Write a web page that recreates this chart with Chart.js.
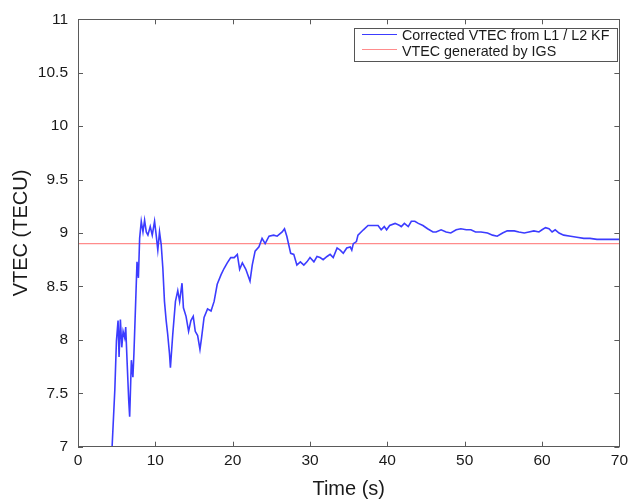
<!DOCTYPE html>
<html>
<head>
<meta charset="utf-8">
<script src="https://cdn.jsdelivr.net/npm/chart.js@4.4.1/dist/chart.umd.min.js"></script>
<style>
html,body{margin:0;padding:0;background:#fff;}
#wrap{width:633px;height:502px;position:relative;}
</style>
</head>
<body>
<div id="wrap"><canvas id="c"></canvas></div>
<script>
// ---- data ----
const seriesLabels = ["Corrected VTEC from L1 / L2 KF", "VTEC generated by IGS"];
const kfTime = [4.41,4.76,4.97,5.18,5.31,5.48,5.66,5.83,6.04,6.17,6.34,6.56,6.68,6.9,7.1,7.23,7.46,7.63,7.81,7.97,
  8.18,8.4,8.61,8.83,9.04,9.34,9.6,9.9,10.11,10.32,10.54,10.76,10.97,11.18,11.4,11.6,11.83,11.95,12.25,12.6,
  12.9,13.14,13.45,13.63,13.97,14.3,14.6,14.9,15.16,15.47,15.77,15.98,16.3,16.75,17.2,17.6,18.0,18.5,18.9,19.3,
  19.75,20.2,20.6,20.9,21.25,21.7,22.24,22.53,22.9,23.4,23.8,24.2,24.7,25.3,25.75,26.4,26.7,27.0,27.5,27.9,
  28.3,28.75,29.2,29.6,30.0,30.5,30.9,31.3,31.7,32.2,32.6,33.0,33.5,33.9,34.3,34.75,35.2,35.4,35.6,36.0,
  36.2,36.9,37.5,38.2,38.8,39.2,39.6,39.9,40.3,41.0,41.6,41.8,42.2,42.7,43.1,43.55,44.0,44.6,45.2,45.9,
  46.3,46.95,47.6,48.2,48.9,49.5,50.2,50.8,51.4,52.1,52.95,53.6,54.2,54.9,55.5,56.4,57.0,57.7,58.3,58.95,
  59.6,60.0,60.45,60.9,61.3,61.7,62.2,62.8,63.7,64.5,65.4,66.2,67.1,67.96,68.8,69.7,70.0];
const kfVtec = [7.0,7.53,7.99,8.18,7.84,8.19,7.93,8.08,8.02,8.12,7.81,7.43,7.28,7.81,7.65,7.87,8.36,8.73,8.58,8.95,
  9.11,9.01,9.12,9.01,8.98,9.06,8.98,9.11,8.98,8.84,9.01,8.89,8.67,8.36,8.18,8.05,7.87,7.74,8.05,8.36,
  8.46,8.36,8.53,8.3,8.22,8.08,8.18,8.22,8.08,8.04,7.91,8.02,8.21,8.29,8.27,8.36,8.52,8.61,8.67,8.72,
  8.77,8.77,8.8,8.66,8.72,8.66,8.55,8.7,8.83,8.87,8.95,8.9,8.97,8.98,8.97,9.01,9.04,8.97,8.81,8.8,
  8.7,8.73,8.7,8.73,8.77,8.73,8.78,8.77,8.75,8.78,8.8,8.77,8.86,8.84,8.81,8.86,8.87,8.84,8.9,8.92,
  8.98,9.03,9.07,9.07,9.07,9.03,9.06,9.03,9.07,9.09,9.07,9.06,9.09,9.06,9.11,9.11,9.09,9.07,9.04,9.01,
  9.01,9.03,9.01,9.0,9.03,9.04,9.03,9.03,9.01,9.01,9.0,8.98,8.97,9.0,9.02,9.02,9.01,9.0,9.01,9.02,
  9.01,9.03,9.05,9.04,9.01,9.03,9.0,8.98,8.97,8.96,8.95,8.95,8.94,8.94,8.94,8.94,8.94];
const igsTime = [0, 70];
const igsVtec = [8.9, 8.9];
const xTicks = [0,10,20,30,40,50,60,70];
const yTicks = [7,7.5,8,8.5,9,9.5,10,10.5,11];
const xTitle = "Time (s)";
const yTitle = "VTEC (TECU)";

const FONT = "'Liberation Sans', Arial, Helvetica, sans-serif";

const framePlugin = {
  id: 'frame',
  afterDraw(chart) {
    const ctx = chart.ctx, a = chart.chartArea;
    const xs = chart.scales.x, ys = chart.scales.y;
    ctx.save();
    ctx.strokeStyle = '#5a5a5a';
    ctx.lineWidth = 1;
    ctx.strokeRect(Math.round(a.left)+0.5, Math.round(a.top)+0.5, Math.round(a.right-a.left), Math.round(a.bottom-a.top));
    const L = 5;
    ctx.beginPath();
    xTicks.forEach(v => {
      const px = Math.round(xs.getPixelForValue(v)) + 0.5;
      ctx.moveTo(px, a.bottom); ctx.lineTo(px, a.bottom - L);
      ctx.moveTo(px, a.top); ctx.lineTo(px, a.top + L);
    });
    yTicks.forEach(v => {
      const py = Math.round(ys.getPixelForValue(v)) + 0.5;
      ctx.moveTo(a.left, py); ctx.lineTo(a.left + L, py);
      ctx.moveTo(a.right, py); ctx.lineTo(a.right - L, py);
    });
    ctx.stroke();

    // legend box
    const bx = 354.5, by = 28.5, bw = 263, bh = 33;
    ctx.fillStyle = '#fff';
    ctx.fillRect(bx, by, bw, bh);
    ctx.strokeStyle = '#555';
    ctx.strokeRect(bx, by, bw, bh);
    ctx.font = '14.3px ' + FONT;
    ctx.textBaseline = 'middle';
    ctx.textAlign = 'left';
    const rows = [36.5, 52];
    chart.data.datasets.forEach((ds, i) => {
      ctx.strokeStyle = ds.borderColor;
      ctx.lineWidth = 1;
      ctx.beginPath();
      ctx.moveTo(362, Math.round(rows[i]) - 2.5);
      ctx.lineTo(397, Math.round(rows[i]) - 2.5);
      ctx.stroke();
      ctx.fillStyle = '#1a1a1a';
      ctx.fillText(ds.label, 402, rows[i]);
    });
    ctx.restore();
  }
};

const kfData = kfTime.map((t, i) => ({x: t, y: kfVtec[i]}));
const igsData = igsTime.map((t, i) => ({x: t, y: igsVtec[i]}));

new Chart(document.getElementById('c'), {
  type: 'line',
  data: {
    datasets: [
      {label: seriesLabels[0], data: kfData, borderColor: '#3c3cff', borderWidth: 1.6, pointRadius: 0, tension: 0, fill: false},
      {label: seriesLabels[1], data: igsData, borderColor: '#ff8c8c', borderWidth: 1.3, pointRadius: 0, tension: 0, fill: false}
    ]
  },
  options: {
    responsive: true,
    maintainAspectRatio: false,
    animation: false,
    layout: {padding: {left: 0, right: 10, top: 16, bottom: 0}},
    plugins: {legend: {display: false}, tooltip: {enabled: false}},
    scales: {
      x: {
        type: 'linear', min: 0, max: 70,
        afterFit(s) { s.height = 55.3; },
        afterBuildTicks(s) { s.ticks = xTicks.map(v => ({value: v})); },
        grid: {display: false, drawTicks: false},
        border: {display: false},
        ticks: {padding: 5, color: '#1a1a1a', font: {family: FONT, size: 15.5}, maxRotation: 0, autoSkip: false},
        title: {display: true, text: xTitle, color: '#1a1a1a', font: {family: FONT, size: 20, lineHeight: 1.2}, padding: {top: 0, bottom: 1}}
      },
      y: {
        type: 'linear', min: 7, max: 11,
        afterFit(s) { s.width = 78; },
        afterBuildTicks(s) { s.ticks = yTicks.map(v => ({value: v})); },
        grid: {display: false, drawTicks: false},
        border: {display: false},
        ticks: {padding: 10, color: '#1a1a1a', font: {family: FONT, size: 15.5}, autoSkip: false,
          callback: v => String(v)},
        title: {display: true, text: yTitle, color: '#1a1a1a', font: {family: FONT, size: 20, lineHeight: 1.2}, padding: {top: 9, bottom: 0}}
      }
    }
  },
  plugins: [framePlugin]
});
</script>
</body>
</html>
